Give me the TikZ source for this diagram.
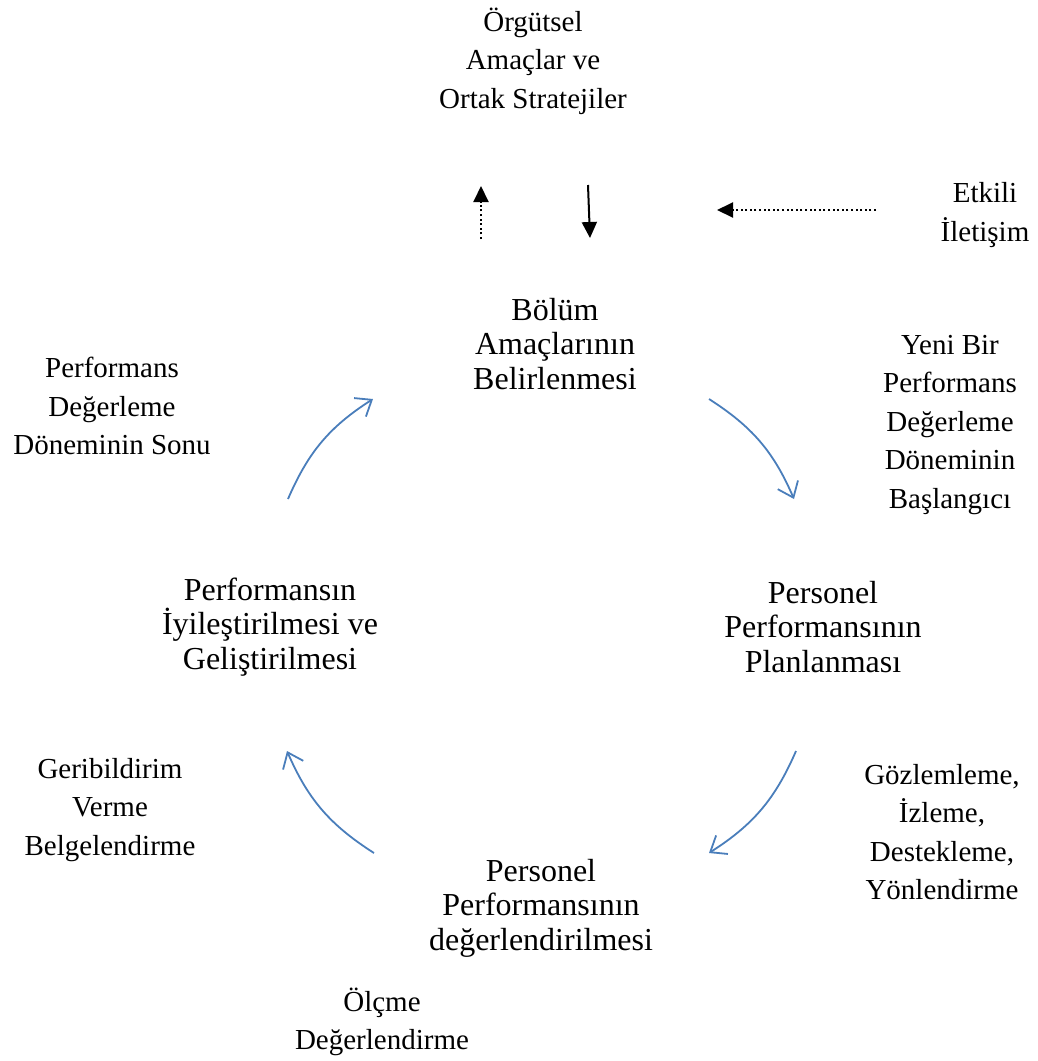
\documentclass[tikz,border=0pt]{standalone}
\usepackage{fontspec}
\setmainfont{Liberation Serif}
\usetikzlibrary{arrows.meta}
\definecolor{cyc}{HTML}{4A7EBB}
\begin{document}
\begin{tikzpicture}[x=1pt,y=1pt,
  small/.style={align=center,font=\fontsize{29}{38.5}\selectfont,inner sep=0pt},
  big/.style={align=center,font=\fontsize{32}{34.5}\selectfont,inner sep=0pt},
  cycarrow/.style={draw=cyc,line width=1.8pt,-{Straight Barb[length=14pt,width=22pt,line width=1.8pt]},bend left=17},
  blackarrow/.style={draw=black,line width=2pt,-{Triangle[length=16pt,width=15pt]}},
  dotarrow/.style={blackarrow,dash pattern=on 2pt off 2.6pt}]
\useasboundingbox (0,0) rectangle (1037,-1061);

% text blocks
\node[small] (org) at (533,-61) {Örgütsel\\Amaçlar ve\\Ortak Stratejiler};
\node[small] (etk) at (985,-215) {Etkili\\İletişim};
\node[big] (bol) at (555,-344) {Bölüm\\Amaçlarının\\Belirlenmesi};
\node[small] (yeni) at (950,-425) {Yeni Bir\\Performans\\Değerleme\\Döneminin\\Başlangıcı};
\node[small] (son) at (112,-406) {Performans\\Değerleme\\Döneminin Sonu};
\node[big] (plan) at (823,-627) {Personel\\Performansının\\Planlanması};
\node[big] (iyi) at (270,-627) {Performansın\\İyileştirilmesi ve\\Geliştirilmesi};
\node[small] (goz) at (942,-832) {Gözlemleme,\\İzleme,\\Destekleme,\\Yönlendirme};
\node[small] (geri) at (110,-810) {Geribildirim\\Verme\\Belgelendirme};
\node[big] (deg) at (541,-908) {Personel\\Performansının\\değerlendirilmesi};
\node[small] (olc) at (382,-1022) {Ölçme\\Değerlendirme};

% arrow end points
\coordinate (upA) at (481,-239);
\coordinate (upB) at (481,-186);
\coordinate (dnA) at (588,-185);
\coordinate (dnB) at (590,-238);
\coordinate (ltA) at (876,-210);
\coordinate (ltB) at (717,-210);

\coordinate (tlA) at (288,-499);
\coordinate (tlB) at (373,-399);
\coordinate (trA) at (709,-399);
\coordinate (trB) at (794,-499);
\coordinate (brA) at (796,-751);
\coordinate (brB) at (709,-853);
\coordinate (blA) at (374,-853);
\coordinate (blB) at (287,-751);

% black arrows near the top
\draw[dotarrow] (upA) -- (upB);
\draw[blackarrow] (dnA) -- (dnB);
\draw[dotarrow] (ltA) -- (ltB);

% cycle arrows
\draw[cycarrow] (tlA) to (tlB);
\draw[cycarrow] (trA) to (trB);
\draw[cycarrow] (brA) to (brB);
\draw[cycarrow] (blA) to (blB);
\end{tikzpicture}
\end{document}
